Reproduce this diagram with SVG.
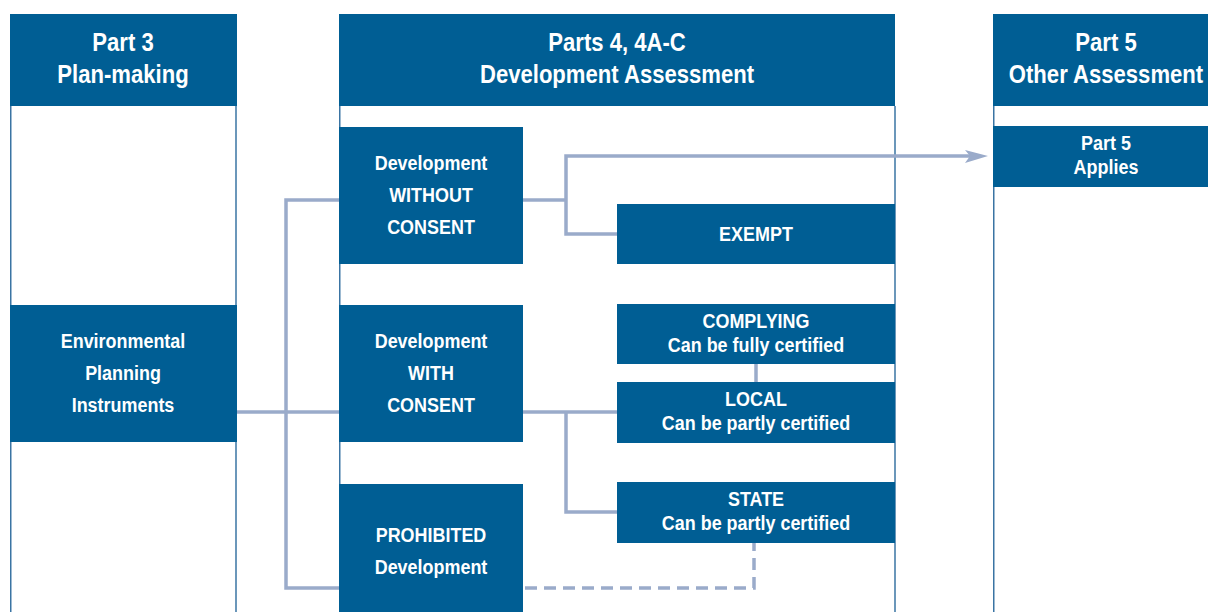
<svg xmlns="http://www.w3.org/2000/svg" width="1208" height="612" viewBox="0 0 1208 612">
<defs>
<style>
.hdr{fill:#005e94}
.box{fill:#005e94}
.col{fill:none;stroke:#3a74a3;stroke-width:1.5}
.t{font-family:"Liberation Sans",Arial,sans-serif;font-weight:bold;fill:#ffffff;text-anchor:middle}
.h{font-size:26px}
.n{font-size:21px}
.c{fill:none;stroke:#9aabca;stroke-width:3.5}
.d{fill:none;stroke:#9aabca;stroke-width:3.5;stroke-dasharray:12 7}
</style>
</defs>
<rect width="1208" height="612" fill="#ffffff"/>
<g id="columns">
<line class="col" x1="10.75" y1="106" x2="10.75" y2="612"/>
<line class="col" x1="236" y1="106" x2="236" y2="612"/>
<line class="col" x1="339.75" y1="106" x2="339.75" y2="612"/>
<line class="col" x1="895" y1="106" x2="895" y2="612"/>
<line class="col" x1="993.75" y1="106" x2="993.75" y2="612"/>
</g>
<g id="col-part3">
<rect class="hdr" x="10" y="14" width="227" height="92"/>
<g transform="translate(123,0) scale(0.85,1)">
<text class="t h" x="0" y="51">Part 3</text>
<text class="t h" x="0" y="83">Plan-making</text>
</g>
</g>
<g id="col-part4">
<rect class="hdr" x="339" y="14" width="556" height="92"/>
<g transform="translate(617,0) scale(0.85,1)">
<text class="t h" x="0" y="51">Parts 4, 4A-C</text>
<text class="t h" x="0" y="83">Development Assessment</text>
</g>
</g>
<g id="col-part5">
<rect class="hdr" x="993" y="14" width="215" height="92"/>
<g transform="translate(1106,0) scale(0.85,1)">
<text class="t h" x="0" y="51">Part 5</text>
<text class="t h" x="0" y="83">Other Assessment</text>
</g>
</g>
<g id="connectors">
<polyline class="c" points="339,200 286,200 286,588 339,588"/>
<line class="c" x1="236" y1="412" x2="339" y2="412"/>
<polyline class="c" points="523,200 566,200"/>
<polyline class="c" points="970,156 566,156 566,234 617,234"/>
<line class="c" x1="523" y1="412" x2="617" y2="412"/>
<polyline class="c" points="566,412 566,512 617,512"/>
<line class="c" x1="756" y1="364" x2="756" y2="382"/>
<polyline class="d" points="525,588 754,588 754,543"/>
<path d="M988,156 L965,150 L970,156 L965,163 Z" fill="#9aabca"/>
</g>
<g id="epi">
<rect class="box" x="10" y="305" width="227" height="137"/>
<g transform="translate(123,0) scale(0.855,1)">
<text class="t n" x="0" y="348">Environmental</text>
<text class="t n" x="0" y="380">Planning</text>
<text class="t n" x="0" y="412">Instruments</text>
</g>
</g>
<g id="without-consent">
<rect class="box" x="339" y="127" width="184" height="137"/>
<g transform="translate(431,0) scale(0.855,1)">
<text class="t n" x="0" y="170">Development</text>
<text class="t n" x="0" y="202">WITHOUT</text>
<text class="t n" x="0" y="234">CONSENT</text>
</g>
</g>
<g id="with-consent">
<rect class="box" x="339" y="305" width="184" height="137"/>
<g transform="translate(431,0) scale(0.855,1)">
<text class="t n" x="0" y="348">Development</text>
<text class="t n" x="0" y="380">WITH</text>
<text class="t n" x="0" y="412">CONSENT</text>
</g>
</g>
<g id="prohibited">
<rect class="box" x="339" y="484" width="184" height="128"/>
<g transform="translate(431,0) scale(0.855,1)">
<text class="t n" x="0" y="542">PROHIBITED</text>
<text class="t n" x="0" y="574">Development</text>
</g>
</g>
<g id="exempt">
<rect class="box" x="617" y="204" width="278" height="60"/>
<g transform="translate(756,0) scale(0.855,1)">
<text class="t n" x="0" y="241">EXEMPT</text>
</g>
</g>
<g id="complying">
<rect class="box" x="617" y="304" width="278" height="60"/>
<g transform="translate(756,0) scale(0.855,1)">
<text class="t n" x="0" y="328">COMPLYING</text>
<text class="t n" x="0" y="352">Can be fully certified</text>
</g>
</g>
<g id="local">
<rect class="box" x="617" y="382" width="278" height="61"/>
<g transform="translate(756,0) scale(0.855,1)">
<text class="t n" x="0" y="406">LOCAL</text>
<text class="t n" x="0" y="430">Can be partly certified</text>
</g>
</g>
<g id="state">
<rect class="box" x="617" y="482" width="278" height="61"/>
<g transform="translate(756,0) scale(0.855,1)">
<text class="t n" x="0" y="506">STATE</text>
<text class="t n" x="0" y="530">Can be partly certified</text>
</g>
</g>
<g id="part5-applies">
<rect class="box" x="993" y="126" width="215" height="61"/>
<g transform="translate(1106,0) scale(0.855,1)">
<text class="t n" x="0" y="150">Part 5</text>
<text class="t n" x="0" y="174">Applies</text>
</g>
</g>
</svg>
